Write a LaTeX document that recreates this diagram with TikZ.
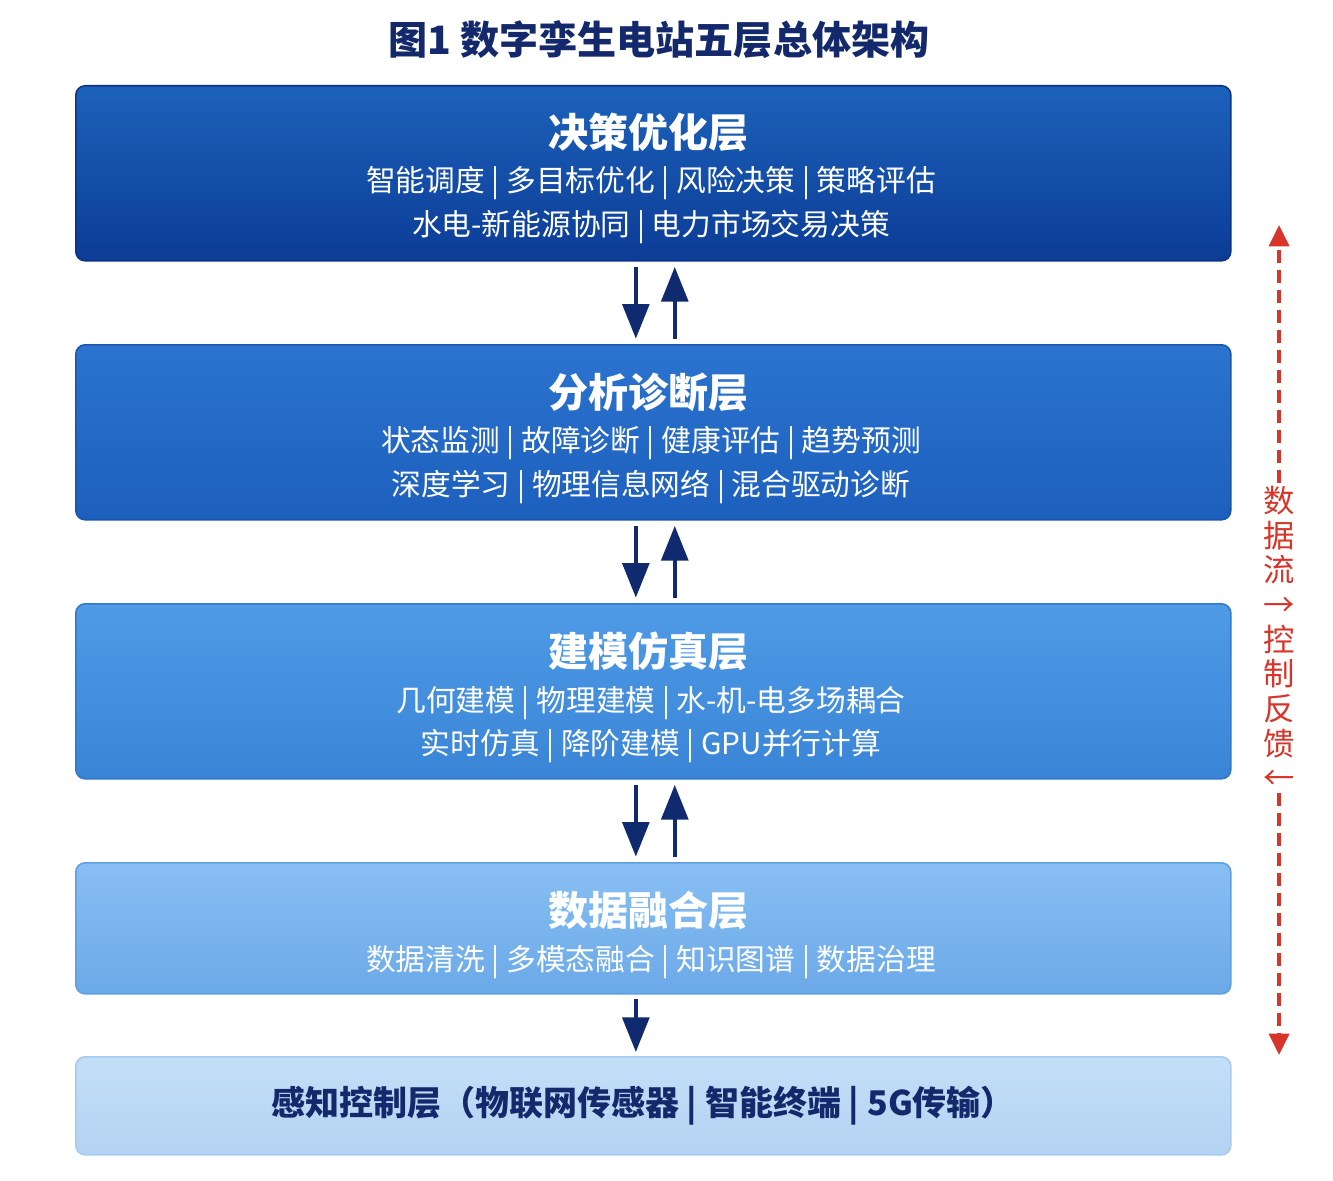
\documentclass[tikz,border=0pt]{standalone}
\usepackage{fontspec}
\setmainfont{Noto Sans CJK SC}
\usetikzlibrary{arrows.meta}
\definecolor{navy}{HTML}{13296B}
\definecolor{arrowc}{HTML}{0F2A6E}
\definecolor{redc}{HTML}{D8352A}
\definecolor{aT}{HTML}{1C62BB}\definecolor{aB}{HTML}{0C3C96}\definecolor{aD}{HTML}{0A3486}
\definecolor{bT}{HTML}{2B74CF}\definecolor{bB}{HTML}{1D5FBD}\definecolor{bD}{HTML}{1A56AD}
\definecolor{cT}{HTML}{4F9BE6}\definecolor{cB}{HTML}{3A84D6}\definecolor{cD}{HTML}{3279CC}
\definecolor{dT}{HTML}{88BFF3}\definecolor{dB}{HTML}{6BA9E8}\definecolor{dD}{HTML}{5F9FE0}
\definecolor{eT}{HTML}{C3DEF7}\definecolor{eB}{HTML}{B3D3F2}\definecolor{eD}{HTML}{A7CAF0}
\tikzset{
  layerbox/.style={anchor=north west, minimum width=1155*0.75pt, inner sep=0pt,
    rounded corners=7pt, line width=1.2pt},
  ltitle/.style={text=white, font=\fontsize{30pt}{34pt}\selectfont\bfseries, inner sep=0pt},
  lsub/.style={text=white, font=\fontsize{22.3pt}{26pt}\selectfont, inner sep=0pt},
  dnarrow/.style={arrowc, line width=3pt, -{Triangle[length=26pt,width=20pt]}},
  fbarrow/.style={redc, line width=2.8pt, dash pattern=on 10pt off 5pt, -{Triangle[length=16pt,width=15pt]}},
}
\begin{document}
\begin{tikzpicture}[x=0.75pt,y=-0.75pt]
\useasboundingbox[fill=white] (0,0) rectangle (1333,1180);
% title
\node[text=navy, font=\fontsize{29.3pt}{33pt}\selectfont\bfseries, inner sep=0pt] (title) at (659,40) {图1 数字孪生电站五层总体架构};
% boxes
\node[layerbox, minimum height=175*0.75pt, top color=aT, bottom color=aB, draw=aD] (b1) at (75,85) {};
\node[layerbox, minimum height=175*0.75pt, top color=bT, bottom color=bB, draw=bD] (b2) at (75,344) {};
\node[layerbox, minimum height=175*0.75pt, top color=cT, bottom color=cB, draw=cD] (b3) at (75,603) {};
\node[layerbox, minimum height=131*0.75pt, top color=dT, bottom color=dB, draw=dD] (b4) at (75,862) {};
\node[layerbox, minimum height=98*0.75pt, top color=eT, bottom color=eB, draw=eD] (b5) at (75,1056) {};
% texts
\node[ltitle] (t1) at (648,132) {决策优化层};
\node[lsub] (s1a) at (651,183) {智能调度 | 多目标优化 | 风险决策 | 策略评估};
\node[lsub] (s1b) at (651,227) {水电-新能源协同 | 电力市场交易决策};
\node[ltitle] (t2) at (648,392) {分析诊断层};
\node[lsub] (s2a) at (651,443) {状态监测 | 故障诊断 | 健康评估 | 趋势预测};
\node[lsub] (s2b) at (651,487) {深度学习 | 物理信息网络 | 混合驱动诊断};
\node[ltitle] (t3) at (648,651) {建模仿真层};
\node[lsub] (s3a) at (651,703) {几何建模 | 物理建模 | 水-机-电多场耦合};
\node[lsub] (s3b) at (651,746) {实时仿真 | 降阶建模 | GPU并行计算};
\node[ltitle] (t4) at (648,910) {数据融合层};
\node[lsub] (s4a) at (651,962) {数据清洗 | 多模态融合 | 知识图谱 | 数据治理};
\node[text=navy, font=\fontsize{25.5pt}{29pt}\selectfont\bfseries, inner sep=0pt] (t5) at (643,1106) {感知控制层（物联网传感器 | 智能终端 | 5G传输）};
% arrows between layers
\draw[dnarrow] ([xshift=-13.1pt,yshift=-4pt]b1.south) -- ([xshift=-13.1pt,yshift=4pt]b2.north);
\draw[dnarrow] ([xshift=16.1pt,yshift=4pt]b2.north) -- ([xshift=16.1pt,yshift=-4pt]b1.south);
\draw[dnarrow] ([xshift=-13.1pt,yshift=-4pt]b2.south) -- ([xshift=-13.1pt,yshift=4pt]b3.north);
\draw[dnarrow] ([xshift=16.1pt,yshift=4pt]b3.north) -- ([xshift=16.1pt,yshift=-4pt]b2.south);
\draw[dnarrow] ([xshift=-13.1pt,yshift=-4pt]b3.south) -- ([xshift=-13.1pt,yshift=4pt]b4.north);
\draw[dnarrow] ([xshift=16.1pt,yshift=4pt]b4.north) -- ([xshift=16.1pt,yshift=-4pt]b3.south);
\draw[dnarrow] ([xshift=-13.1pt,yshift=-3pt]b4.south) -- ([xshift=-13.1pt,yshift=3pt]b5.north);
% feedback label
\node[text=redc, font=\fontsize{23.5pt}{26pt}\selectfont, align=center, inner sep=2pt] (fb) at (1279,638)
  {数\\据\\流\\→\\控\\制\\反\\馈\\←};
\coordinate (ftop) at (1279,225);
\coordinate (fbot) at (1279,1055);
\draw[fbarrow] (fb.north) -- (ftop);
\draw[fbarrow] (fb.south) -- (fbot);
\end{tikzpicture}
\end{document}
